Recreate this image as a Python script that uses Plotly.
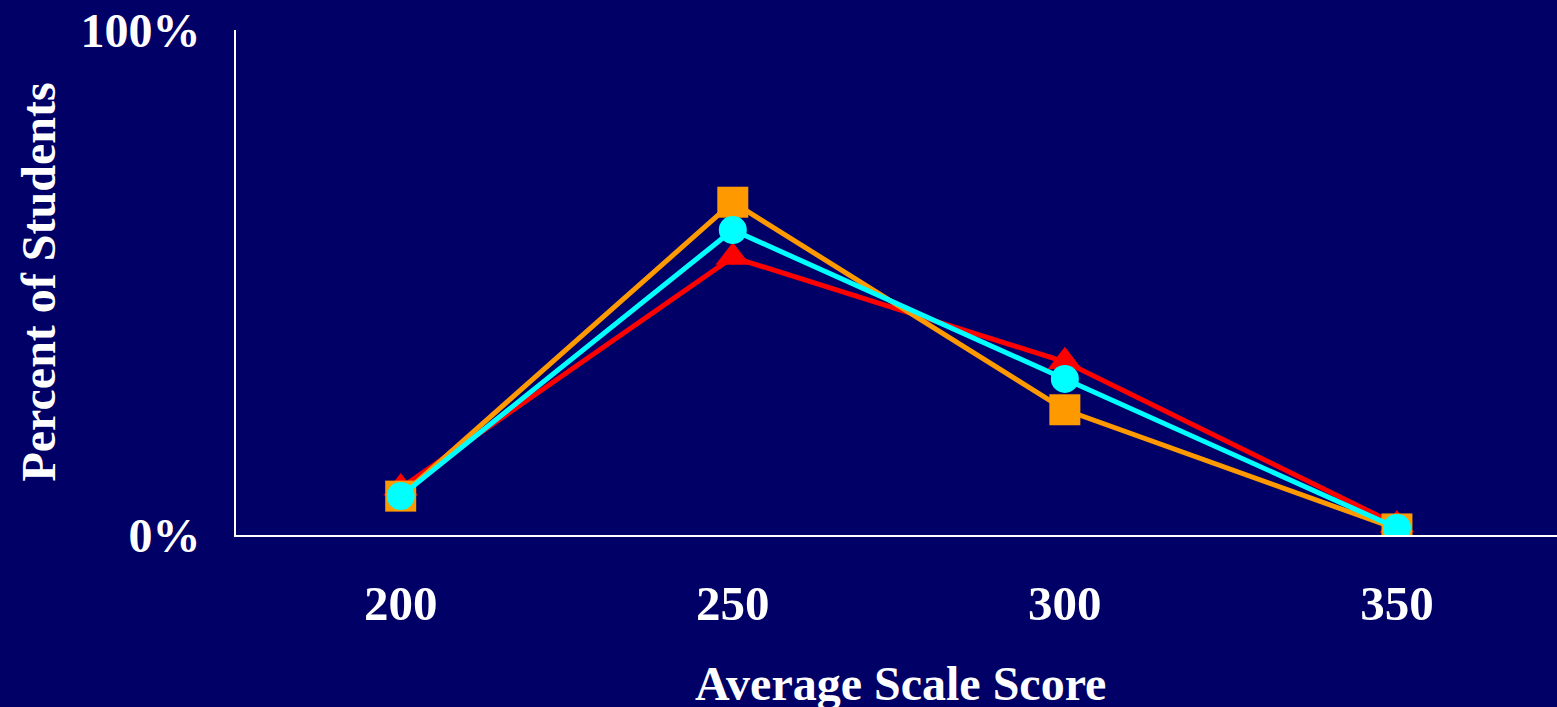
import plotly.graph_objects as go

# Score levels on the x axis
scores = [200, 250, 300, 350]

# Percent of students at each score level, one list per group
red_pct = [9.3, 55.0, 34.3, 2.0]
orange_pct = [7.7, 65.9, 24.8, 1.2]
cyan_pct = [7.7, 60.4, 30.9, 1.4]

y_ticks = [0, 100]
y_tick_text = ["0%", "100%"]
x_tick_text = ["200", "250", "300", "350"]

BG = "#000066"
FONT = "Liberation Serif, Times New Roman, serif"

fig = go.Figure()

fig.add_trace(go.Scatter(
    x=scores, y=red_pct, mode="lines+markers",
    line=dict(color="#FF0000", width=5),
    marker=dict(symbol="triangle-up", size=30, color="#FF0000"),
    showlegend=False,
))
fig.add_trace(go.Scatter(
    x=scores, y=orange_pct, mode="lines+markers",
    line=dict(color="#FF9900", width=5),
    marker=dict(symbol="square", size=31, color="#FF9900"),
    showlegend=False,
))
fig.add_trace(go.Scatter(
    x=scores, y=cyan_pct, mode="lines+markers",
    line=dict(color="#00FFFF", width=5),
    marker=dict(symbol="circle", size=28, color="#00FFFF"),
    showlegend=False,
))

fig.update_layout(
    width=1557, height=707,
    paper_bgcolor=BG, plot_bgcolor=BG,
    margin=dict(l=236, r=0, t=30, b=172),
    font=dict(family=FONT, color="white"),
    xaxis=dict(
        range=[175.2, 374.1],
        tickvals=scores, ticktext=x_tick_text,
        showgrid=False, zeroline=False,
        showline=True, linecolor="white", linewidth=2,
        ticks="", ticklabelstandoff=24,
        tickfont=dict(family=FONT, size=49, color="white", weight="bold"),
    ),
    yaxis=dict(
        range=[0, 100],
        tickvals=y_ticks, ticktext=y_tick_text,
        showgrid=False, zeroline=False,
        showline=True, linecolor="white", linewidth=2,
        ticks="", ticklabelstandoff=24,
        tickfont=dict(family=FONT, size=48, color="white", weight="bold"),
    ),
    annotations=[
        dict(
            text="<b>Average Scale Score</b>",
            xref="paper", yref="paper", x=(900 - 236) / (1557 - 236),
            y=-(683 - 535) / (535 - 30), xanchor="center", yanchor="middle",
            showarrow=False, font=dict(family=FONT, size=48, color="white"),
        ),
        dict(
            text="<b>Percent of Students</b>",
            xref="paper", yref="paper", x=-(236 - 38) / (1557 - 236),
            y=0.5, xanchor="center", yanchor="middle", textangle=-90,
            showarrow=False, font=dict(family=FONT, size=48, color="white"),
        ),
    ],
)

fig.write_html("out.html")
